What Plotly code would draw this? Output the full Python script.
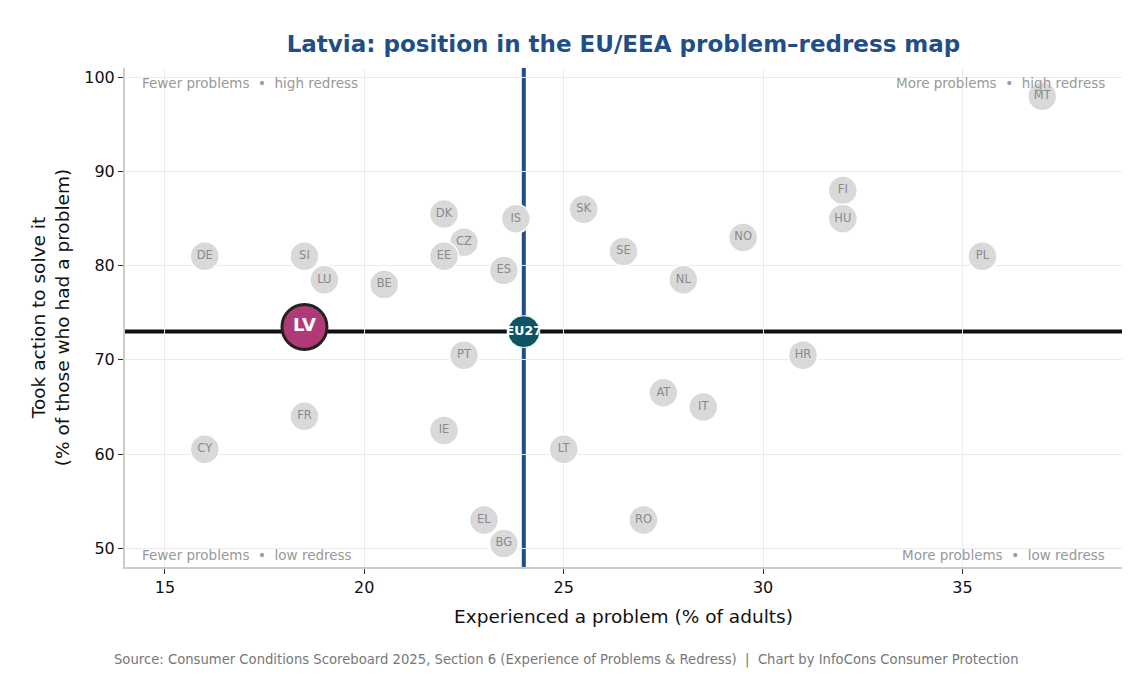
import plotly.graph_objects as go

# country codes and values
countries = ["DE", "SI", "LU", "BE", "DK", "CZ", "EE", "IS", "ES", "SK", "SE", "NL", "NO",
             "FI", "HU", "PL", "MT", "PT", "HR", "AT", "IT", "FR", "IE", "CY", "LT", "EL",
             "RO", "BG"]
problem_pct = [16.0, 18.5, 19.0, 20.5, 22.0, 22.5, 22.0, 23.8, 23.5, 25.5, 26.5, 28.0, 29.5,
               32.0, 32.0, 35.5, 37.0, 22.5, 31.0, 27.5, 28.5, 18.5, 22.0, 16.0, 25.0, 23.0,
               27.0, 23.5]
action_pct = [81.0, 81.0, 78.5, 78.0, 85.5, 82.5, 81.0, 85.0, 79.5, 86.0, 81.5, 78.5, 83.0,
              88.0, 85.0, 81.0, 98.0, 70.5, 70.5, 66.5, 65.0, 64.0, 62.5, 60.5, 60.5, 53.0,
              53.0, 50.5]

lv_problem, lv_action = 18.5, 73.5
eu_problem, eu_action = 24.0, 73.0

x_range = [14, 39]
y_range = [48, 101]

font = "DejaVu Sans"

fig = go.Figure()

fig.add_trace(go.Scatter(
    x=problem_pct, y=action_pct, mode="markers+text", text=countries,
    textposition="middle center",
    textfont=dict(family=font, size=11.5, color="#8a8a8a"),
    marker=dict(size=29, color="#d9d9d9", line=dict(color="white", width=1.5)),
    hoverinfo="text", showlegend=False,
))

fig.add_trace(go.Scatter(
    x=[eu_problem], y=[eu_action], mode="markers+text", text=["<b>EU27</b>"],
    textposition="middle center",
    textfont=dict(family=font, size=12.5, color="white"),
    marker=dict(size=32, color="#0e5466", line=dict(color="white", width=1)),
    showlegend=False,
))

fig.add_trace(go.Scatter(
    x=[lv_problem], y=[lv_action], mode="markers+text", text=["<b>LV</b>"],
    textposition="middle center",
    textfont=dict(family=font, size=18, color="white"),
    marker=dict(size=45, color="#b03a78", line=dict(color="#222222", width=3)),
    showlegend=False,
))

# EU averages as reference lines, under the gridlines
fig.add_shape(type="line", xref="x", yref="paper", x0=eu_problem, x1=eu_problem, y0=0, y1=1,
              line=dict(color="#1f4e89", width=4), layer="below")
fig.add_shape(type="line", xref="paper", yref="y", x0=0, x1=1, y0=eu_action, y1=eu_action,
              line=dict(color="#111111", width=4), layer="below")

quad = dict(family=font, size=13.5, color="#999999")
fig.add_annotation(x=0.015, y=0.99, xref="paper", yref="paper", xanchor="left", yanchor="top",
                   text="Fewer problems  •  high redress", showarrow=False, font=quad)
fig.add_annotation(x=0.985, y=0.99, xref="paper", yref="paper", xanchor="right", yanchor="top",
                   text="More problems  •  high redress", showarrow=False, font=quad)
fig.add_annotation(x=0.015, y=0.005, xref="paper", yref="paper", xanchor="left", yanchor="bottom",
                   text="Fewer problems  •  low redress", showarrow=False, font=quad)
fig.add_annotation(x=0.985, y=0.005, xref="paper", yref="paper", xanchor="right", yanchor="bottom",
                   text="More problems  •  low redress", showarrow=False, font=quad)

fig.add_annotation(x=0.443, y=-0.187, xref="paper", yref="paper", yanchor="middle",
                   text="Source: Consumer Conditions Scoreboard 2025, Section 6 (Experience of Problems & Redress)  |  Chart by InfoCons Consumer Protection",
                   showarrow=False, font=dict(family=font, size=13.2, color="#777777"))

fig.update_layout(
    width=1140, height=675,
    paper_bgcolor="white", plot_bgcolor="white",
    font=dict(family=font, size=14, color="#111111"),
    title=dict(text="<b>Latvia: position in the EU/EEA problem–redress map</b>",
               xref="paper", x=0.5, xanchor="center", yref="container", y=0.947,
               yanchor="middle",
               font=dict(family=font, size=23, color="#1f4e89")),
    margin=dict(l=117, r=26, t=60, b=116),
    xaxis=dict(
        title=dict(text="Experienced a problem (% of adults)", font=dict(size=18.5), standoff=14),
        range=x_range, tickvals=[15, 20, 25, 30, 35], tickfont=dict(size=16),
        showgrid=True, gridcolor="#ececec", gridwidth=1, zeroline=False,
        showline=True, linecolor="#cccccc", linewidth=2,
        ticks="outside", ticklen=5, tickcolor="#333333",
    ),
    yaxis=dict(
        title=dict(text="Took action to solve it<br>(% of those who had a problem)",
                   font=dict(size=18.5), standoff=10),
        range=y_range, tickvals=[50, 60, 70, 80, 90, 100], tickfont=dict(size=16),
        showgrid=True, gridcolor="#ececec", gridwidth=1, zeroline=False,
        showline=True, linecolor="#cccccc", linewidth=2,
        ticks="outside", ticklen=5, tickcolor="#333333",
    ),
)

fig.write_html("out.html")
